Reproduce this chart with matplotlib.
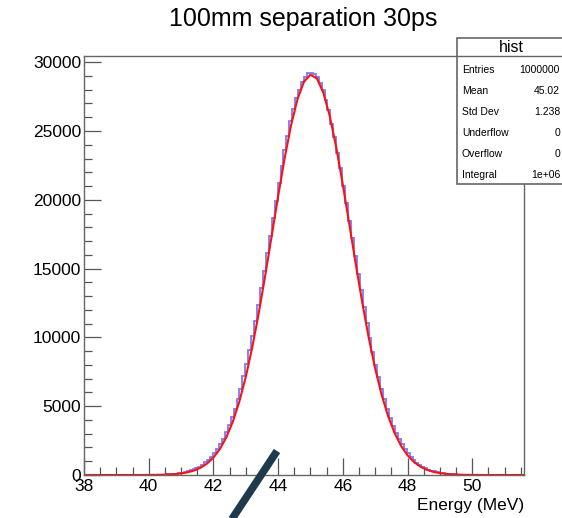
#!/usr/bin/env python3
"""
Energy histogram (100mm separation, 30ps) with gaussian fit, ROOT-like style.
Saves out.png
"""

import numpy as np
import matplotlib.pyplot as plt
from matplotlib.patches import Rectangle
from matplotlib.lines import Line2D
from matplotlib.ticker import MultipleLocator

plt.rcParams["font.family"] = ["Liberation Sans", "DejaVu Sans"]

# histogram: 150 bins from 38.0 to 51.6 MeV
x_min = 38.0
x_max = 51.6
n_bins = 150

counts = (
    [0] * 16
    + [1, 1, 2, 3, 4, 6, 8, 11, 15]
    # rising side
    + [21, 29, 36, 49, 61, 81, 101, 132, 163, 211, 260, 331, 404, 508, 614, 761,
       913, 1118, 1329, 1606, 1895, 2262, 2641, 3112, 3604, 4196, 4810, 5541,
       6284, 7160, 8041, 9056, 10066, 11210, 12331, 13580, 14790, 16110, 17360,
       18700, 19940, 21250, 22420, 23630, 24670, 25720, 26570, 27410, 28010,
       28590, 28910, 29180]
    # peak
    + [29230]
    # falling side
    + [29110, 28900, 28460, 27970, 27240, 26490, 25520, 24560, 23400, 22290,
       21010, 19800, 18450, 17210, 15920, 14640, 13430, 12230, 11080, 9990,
       8960, 7990, 7090, 6260, 5490, 4790, 4160, 3590, 3080, 2630, 2230, 1885,
       1585, 1320, 1096, 905, 744, 607, 494, 399, 321, 257, 204, 161, 127, 99,
       78, 60, 46, 35, 27, 20]
    + [15, 11, 8, 6, 4, 3, 2, 1, 1]
    + [0] * 11
)

# gaussian fit curve
fit_x = [38.0, 38.5, 39.0, 39.4, 39.6, 39.8, 40.0, 40.2, 40.4, 40.6, 40.8,
         41.0, 41.2, 41.4, 41.6, 41.8, 42.0, 42.2, 42.4, 42.6, 42.8, 43.0, 43.2,
         43.4, 43.6, 43.8, 44.0, 44.2, 44.4, 44.6, 44.8, 45.0, 45.2, 45.4, 45.6,
         45.8, 46.0, 46.2, 46.4, 46.6, 46.8, 47.0, 47.2, 47.4, 47.6, 47.8, 48.0,
         48.2, 48.4, 48.6, 48.8, 49.0, 49.2, 49.4, 49.6, 49.8, 50.0, 50.2, 50.4,
         51.0, 51.6]
fit_y = [0, 0, 0.1, 0.5, 1.2, 2.5, 5, 10, 19, 36, 65,
         114, 194, 323, 523, 825, 1265, 1889, 2742, 3874, 5326, 7123, 9272,
         11744, 14476, 17359, 20255, 22998, 25410, 27320, 28579, 29091, 28814,
         27771, 26044, 23766, 21104, 18234, 15329, 12540, 9983, 7732, 5827,
         4274, 3050, 2117, 1431, 941, 602, 375, 227, 134, 77, 43, 23, 12, 6,
         3, 1.5, 0, 0]

title = "100mm separation 30ps"
x_label = "Energy (MeV)"
stats_name = "hist"
stats_rows = [("Entries", "1000000"), ("Mean", "45.02"), ("Std Dev", "1.238"),
              ("Underflow", "0"), ("Overflow", "0"), ("Integral", "1e+06")]


def main():
    W, H = 562, 518
    fig = plt.figure(figsize=(W / 100, H / 100), dpi=100)
    ax = fig.add_axes([84 / W, 1 - 475 / H, 440 / W, 419 / H])

    edges = np.linspace(x_min, x_max, n_bins + 1)
    ax.stairs(counts, edges, color="#5858f8", alpha=0.8, lw=1.3)
    ax.plot(fit_x, fit_y, color="#ff1010", lw=1.5)

    ax.set_xlim(x_min, x_max)
    ax.set_ylim(0, 30450)

    ax.xaxis.set_major_locator(MultipleLocator(2))
    ax.xaxis.set_minor_locator(MultipleLocator(0.5))
    ax.yaxis.set_major_locator(MultipleLocator(5000))
    ax.yaxis.set_minor_locator(MultipleLocator(1000))
    ax.tick_params(which="both", direction="in", top=False, right=False,
                   labelsize=12.5, color="#555555", width=0.9)
    ax.tick_params(which="major", length=12, pad=3)
    ax.tick_params(which="minor", length=6)
    ax.tick_params(axis="y", pad=2)
    for s in ax.spines.values():
        s.set_color("#666666")
        s.set_linewidth(1.0)

    ax.set_xlabel(x_label, loc="right", fontsize=12.5, labelpad=3)

    fig.text(303 / W, 1 - 19 / H, title, ha="center", va="center", fontsize=18)

    # stats box
    bx0, bx1, by0, by1 = 457, 575, 38, 184
    fig.patches.append(Rectangle((bx0 / W, 1 - by1 / H), (bx1 - bx0) / W,
                                 (by1 - by0) / H, transform=fig.transFigure,
                                 facecolor="white", edgecolor="#666666", lw=1.2,
                                 zorder=5))
    fig.lines.append(Line2D([bx0 / W, bx1 / W], [1 - 56 / H, 1 - 56 / H],
                            transform=fig.transFigure, color="#666666", lw=1.0,
                            zorder=6))
    fig.text(511 / W, 1 - 47 / H, stats_name, ha="center", va="center",
             fontsize=11.5, zorder=7)
    for i, (name, val) in enumerate(stats_rows):
        y = 1 - (70 + i * 21) / H
        fig.text(462 / W, y, name, ha="left", va="center", fontsize=7.5, zorder=7)
        fig.text(560 / W, y, val, ha="right", va="center", fontsize=7.5, zorder=7)

    # dark pen stroke over the slide
    fig.lines.append(Line2D([277 / W, 228 / W], [1 - 451 / H, 1 - 525 / H],
                            transform=fig.transFigure, color="#1e3a4c", lw=5.5,
                            solid_capstyle="butt", zorder=10))

    fig.savefig("out.png", dpi=100)
    plt.close(fig)


if __name__ == "__main__":
    main()
